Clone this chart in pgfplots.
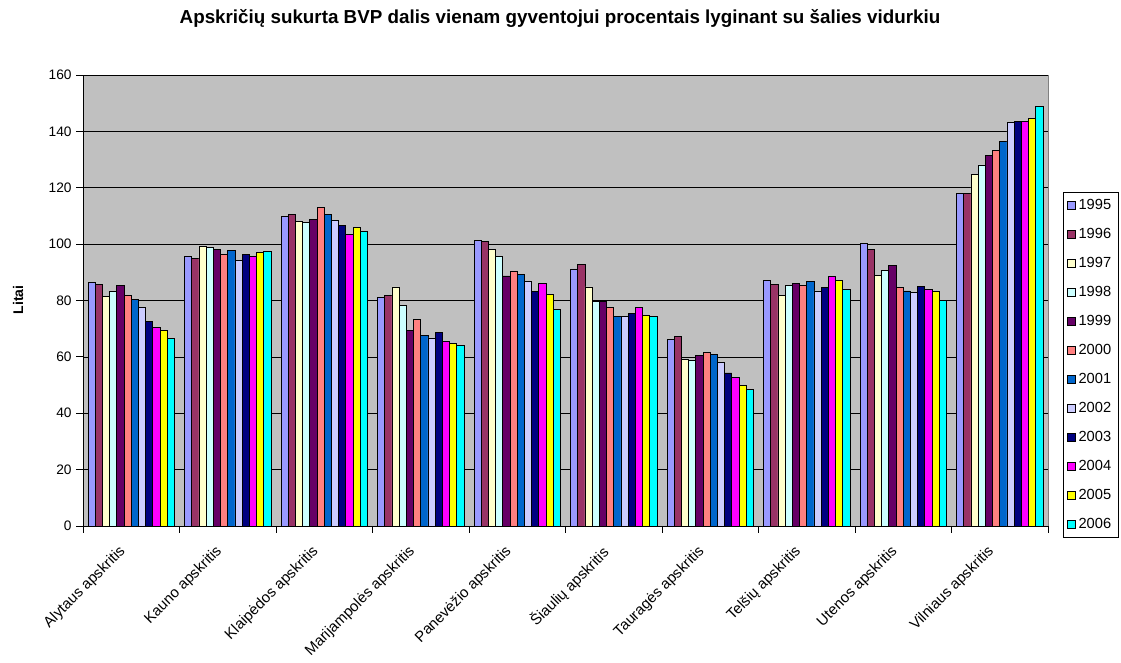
\documentclass[border=0pt]{standalone}
\usepackage{fontspec}
\setmainfont{Liberation Sans}
\usepackage{pgfplots}
\usepackage{pgfplotstable}
\pgfplotsset{compat=1.18}
\definecolor{bggray}{HTML}{C0C0C0}
\definecolor{c1995}{HTML}{9999FF}
\definecolor{c1996}{HTML}{993366}
\definecolor{c1997}{HTML}{FFFFCC}
\definecolor{c1998}{HTML}{CCFFFF}
\definecolor{c1999}{HTML}{660066}
\definecolor{c2000}{HTML}{FF8080}
\definecolor{c2001}{HTML}{0066CC}
\definecolor{c2002}{HTML}{CCCCFF}
\definecolor{c2003}{HTML}{000080}
\definecolor{c2004}{HTML}{FF00FF}
\definecolor{c2005}{HTML}{FFFF00}
\definecolor{c2006}{HTML}{00FFFF}

\pgfplotstableread{
x a1995 a1996 a1997 a1998 a1999 a2000 a2001 a2002 a2003 a2004 a2005 a2006
0 86.3 85.7 81.5 83.1 85.2 81.9 80.4 77.4 72.7 70.6 69.3 66.5
1 95.6 94.9 99.2 98.7 98.0 96.2 97.9 94.2 96.3 95.7 97.2 97.3
2 109.9 110.5 107.9 107.6 108.9 112.9 110.4 108.4 106.5 103.5 105.8 104.4
3 81.0 81.7 84.8 78.4 69.5 73.2 67.6 66.7 68.7 65.6 64.9 64.1
4 101.3 101.0 98.0 95.5 88.7 90.5 89.1 86.6 83.1 85.9 82.2 76.7
5 91.2 92.7 84.8 79.8 79.7 77.4 74.2 74.2 75.3 77.6 74.8 74.2
6 66.2 67.4 59.1 58.9 60.4 61.6 61.0 58.0 54.3 52.6 50.0 48.3
7 87.0 85.7 81.9 85.3 86.0 85.3 86.6 83.4 84.6 88.4 87.0 84.0
8 100.2 98.1 89.0 90.7 92.4 84.5 83.4 82.7 85.0 83.8 83.1 80.0
9 118.0 118.0 124.6 128.1 131.4 133.1 136.3 143.2 143.5 143.5 144.6 149.0
}\data

\begin{document}
\begin{tikzpicture}
\useasboundingbox (0,0) rectangle (840.75pt,496.5pt);
\begin{axis}[
  at={(62.25pt,102pt)}, anchor=south west,
  scale only axis, width=723.75pt, height=338.25pt,
  ybar=0pt, bar width=5.4pt,
  xmin=-0.5, xmax=9.5, ymin=0, ymax=160,
  ytick={0,20,...,160},
  xtick={0,...,9},
  xticklabels={Alytaus apskritis, Kauno apskritis, Klaipėdos apskritis, Marijampolės apskritis, Panevėžio apskritis, Šiaulių apskritis, Tauragės apskritis, Telšių apskritis, Utenos apskritis, Vilniaus apskritis},
  major x tick style={draw=none},
  minor xtick={-0.5,0.5,...,9.5},
  minor tick length=5pt, major tick length=5pt,
  tick align=outside,
  tick style={black, line width=0.6pt},
  axis x line*=bottom, axis y line*=left,
  axis line style={black, line width=0.6pt, -},
  axis background/.style={fill=bggray, draw=gray, line width=0.6pt},
  ymajorgrids, grid style={black, line width=0.5pt},
  /pgf/number format/assume math mode=true,
  yticklabel style={font=\fontsize{10.3}{12}\selectfont},
  xticklabel style={font=\fontsize{11.2}{13}\selectfont, rotate=45, anchor=north east, inner sep=2pt, xshift=-11pt, yshift=3pt},
  legend style={at={(1.0155,0.7406)}, anchor=north west, draw=black, fill=white,
    font=\fontsize{11}{13}\selectfont, row sep=8.6pt, inner sep=3pt},
  legend cell align=left,
  legend image code/.code={\draw[#1, draw=black, line width=0.5pt] (0pt,-3pt) rectangle (6pt,3pt);},
  every axis plot/.append style={draw=black, line width=0.6pt},
]
\addplot[fill=c1995] table[x=x,y=a1995]{\data};
\addplot[fill=c1996] table[x=x,y=a1996]{\data};
\addplot[fill=c1997] table[x=x,y=a1997]{\data};
\addplot[fill=c1998] table[x=x,y=a1998]{\data};
\addplot[fill=c1999] table[x=x,y=a1999]{\data};
\addplot[fill=c2000] table[x=x,y=a2000]{\data};
\addplot[fill=c2001] table[x=x,y=a2001]{\data};
\addplot[fill=c2002] table[x=x,y=a2002]{\data};
\addplot[fill=c2003] table[x=x,y=a2003]{\data};
\addplot[fill=c2004] table[x=x,y=a2004]{\data};
\addplot[fill=c2005] table[x=x,y=a2005]{\data};
\addplot[fill=c2006] table[x=x,y=a2006]{\data};
\legend{1995,1996,1997,1998,1999,2000,2001,2002,2003,2004,2005,2006}
\end{axis}
\node[font=\bfseries\fontsize{14.1}{16}\selectfont] at (420pt,483pt) {Apskričių sukurta BVP dalis vienam gyventojui procentais lyginant su šalies vidurkiu};
\node[font=\bfseries\fontsize{10.5}{12}\selectfont, rotate=90] at (13.5pt,271.5pt) {Litai};
\end{tikzpicture}
\end{document}
